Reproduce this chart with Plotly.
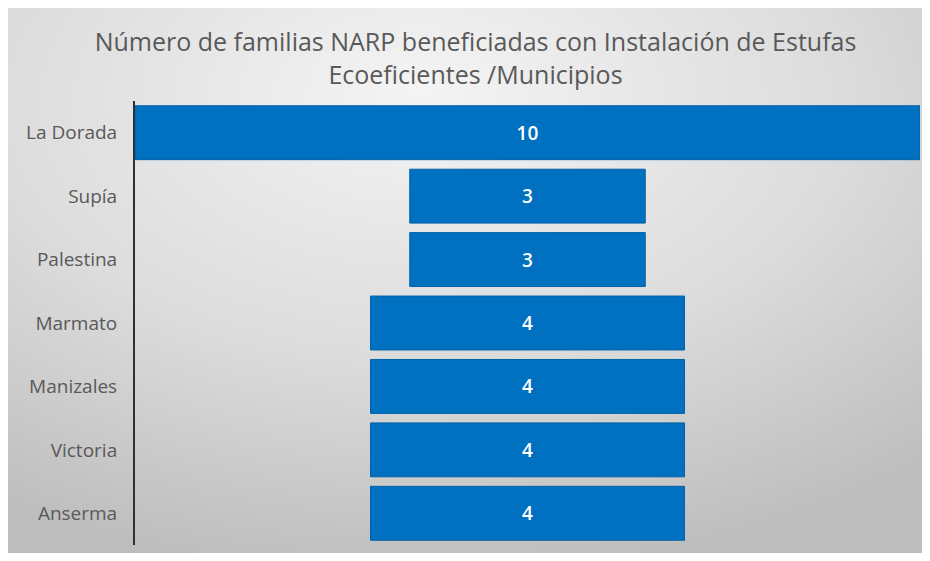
import plotly.graph_objects as go

municipios = ["La Dorada", "Supía", "Palestina", "Marmato", "Manizales", "Victoria", "Anserma"]
familias = [10, 3, 3, 4, 4, 4, 4]

# page body has an 8px margin; keep the figure inside the viewport
W, H = 914, 545
L, R, T, B = 127, 2, 93, 8
pw, ph = W - L - R, H - T - B

def px_x(p):
    return (p - L) / pw

def px_y(q):
    return (H - B - q) / ph

svg = ("data:image/svg+xml;utf8,<svg xmlns='http://www.w3.org/2000/svg' width='914' height='545' "
       "preserveAspectRatio='none'><defs><radialGradient id='g' cx='0.45' cy='0.2' r='0.85' "
       "fx='0.45' fy='0.15'><stop offset='0' stop-color='%23f4f4f4'/><stop offset='0.55' "
       "stop-color='%23dcdcdc'/><stop offset='1' stop-color='%23bdbdbd'/></radialGradient></defs>"
       "<rect width='914' height='545' fill='url(%23g)'/></svg>")

fig = go.Figure(go.Funnel(
    y=municipios,
    x=familias,
    marker=dict(color="#0070C0", line=dict(color="#0062a8", width=1)),
    connector=dict(visible=False),
    textinfo="value",
    textposition="inside",
    insidetextanchor="middle",
    textfont=dict(color="white", size=19, family="Open Sans", weight=600),
    hoverinfo="y+x",
))

fig.update_layout(
    width=W, height=H,
    margin=dict(l=L, r=R, t=T, b=B),
    paper_bgcolor="#dcdcdc",
    plot_bgcolor="rgba(0,0,0,0)",
    showlegend=False,
    title=dict(
        text="Número de familias NARP beneficiadas con Instalación de Estufas<br>Ecoeficientes /Municipios",
        x=467.5 / W, xref="container", xanchor="center",
        y=(H - 43) / H, yanchor="middle",
        font=dict(family="Open Sans", size=25, color="#595959"),
    ),
    funnelgap=0.15,
    images=[dict(
        source=svg, xref="paper", yref="paper",
        x=px_x(0), y=px_y(0),
        sizex=px_x(W) - px_x(0), sizey=px_y(0) - px_y(H),
        sizing="stretch", xanchor="left", yanchor="top", layer="below",
    )],
)

fig.update_xaxes(visible=False, range=[-5, 5], fixedrange=True)
fig.update_yaxes(
    showline=True, linecolor="#303030", linewidth=2,
    showgrid=False, ticks="", ticklabelstandoff=12,
    tickfont=dict(family="Open Sans", size=19, color="#595959"),
)

fig.write_html("out.html")
